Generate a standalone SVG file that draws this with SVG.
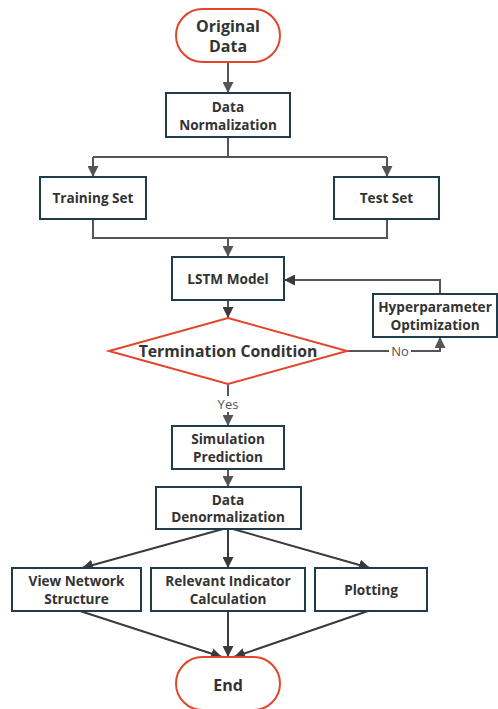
<svg xmlns="http://www.w3.org/2000/svg" width="498" height="709" viewBox="0 0 498 709">
<defs>
<style>
.box{fill:#fff;stroke:#1f3c4c;stroke-width:2}
.term{fill:#fff;stroke:#e2452b;stroke-width:2}
.t{font-family:"Open Sans","Noto Sans","Liberation Sans",sans-serif;font-weight:bold;font-size:13.6px;fill:#333;text-anchor:middle}
.big{font-size:16px}
.mid{font-size:15.8px}
.lbl{font-family:"Open Sans","Noto Sans","Liberation Sans",sans-serif;font-size:13px;fill:#555;text-anchor:middle}
.c{fill:none;stroke:#555;stroke-width:2}
.d{fill:none;stroke:#3a3a3a;stroke-width:2}
</style>
<marker id="ah" viewBox="0 0 10 10" refX="10" refY="5" markerWidth="5.5" markerHeight="5.5" orient="auto" markerUnits="strokeWidth">
<path d="M0,0 L10,5 L0,10 z" fill="#555"/>
</marker>
<marker id="ah2" viewBox="0 0 10 10" refX="10" refY="5" markerWidth="5.5" markerHeight="5.5" orient="auto" markerUnits="strokeWidth">
<path d="M0,0 L10,5 L0,10 z" fill="#3a3a3a"/>
</marker>
</defs>
<rect width="498" height="709" fill="#fff"/>
<g id="connectors">
<path class="c" d="M228,62 V93" marker-end="url(#ah)"/>
<path class="c" d="M228,137 V157 M93,157 H387"/>
<path class="c" d="M93,157 V177" marker-end="url(#ah)"/>
<path class="c" d="M387,157 V177" marker-end="url(#ah)"/>
<path class="c" d="M93,219 V238 H387 V219"/>
<path class="c" d="M228,238 V257" marker-end="url(#ah)"/>
<path class="c" d="M228,300 V318" marker-end="url(#ah2)"/>
<path class="c" d="M440,294 V280 H284" marker-end="url(#ah2)"/>
<path class="c" d="M347,351 H440 V337" marker-end="url(#ah)"/>
<rect x="389" y="343" width="22" height="16" fill="#fff"/>
<text class="lbl" x="400" y="356">No</text>
<path class="c" d="M228,384 V426" marker-end="url(#ah)"/>
<rect x="213" y="396" width="30" height="16" fill="#fff"/>
<text class="lbl" x="228" y="409">Yes</text>
<path class="c" d="M228,469 V487" marker-end="url(#ah)"/>
<path class="d" d="M223,529 L82,568" marker-end="url(#ah2)"/>
<path class="d" d="M228,529 V568" marker-end="url(#ah2)"/>
<path class="d" d="M233,529 L370,568" marker-end="url(#ah2)"/>
<path class="d" d="M80,611 L222,657" marker-end="url(#ah2)"/>
<path class="d" d="M228,611 V657" marker-end="url(#ah2)"/>
<path class="d" d="M368,611 L234,657" marker-end="url(#ah2)"/>
</g>
<g id="original-data">
<rect class="term" x="176" y="9" width="104" height="53" rx="26.5"/>
<text class="t big" x="228" y="32">Original</text>
<text class="t big" x="228" y="52">Data</text>
</g>
<g id="data-normalization">
<rect class="box" x="166" y="93" width="124" height="44"/>
<text class="t" x="228" y="112">Data</text>
<text class="t" x="228" y="129.5">Normalization</text>
</g>
<g id="training-set">
<rect class="box" x="40" y="177" width="106" height="42"/>
<text class="t" x="93" y="203">Training Set</text>
</g>
<g id="test-set">
<rect class="box" x="334" y="177" width="105" height="42"/>
<text class="t" x="386.5" y="203">Test Set</text>
</g>
<g id="lstm-model">
<rect class="box" x="172" y="257" width="112" height="43"/>
<text class="t" x="228" y="283.5">LSTM Model</text>
</g>
<g id="hyperparameter-optimization">
<rect class="box" x="373" y="294" width="124" height="43"/>
<text class="t" x="435" y="312">Hyperparameter</text>
<text class="t" x="435" y="329.5">Optimization</text>
</g>
<g id="termination-condition">
<polygon class="term" points="228,318 347,351 228,384 109,351"/>
<text class="t mid" x="228" y="357">Termination Condition</text>
</g>
<g id="simulation-prediction">
<rect class="box" x="172" y="426" width="112" height="43"/>
<text class="t" x="228" y="444">Simulation</text>
<text class="t" x="228" y="461.5">Prediction</text>
</g>
<g id="data-denormalization">
<rect class="box" x="156" y="487" width="145" height="42"/>
<text class="t" x="228" y="504.5">Data</text>
<text class="t" x="228" y="522">Denormalization</text>
</g>
<g id="view-network-structure">
<rect class="box" x="12" y="568" width="129" height="43"/>
<text class="t" x="76.5" y="586">View Network</text>
<text class="t" x="76.5" y="603.5">Structure</text>
</g>
<g id="relevant-indicator-calculation">
<rect class="box" x="151" y="568" width="154" height="43"/>
<text class="t" x="228" y="586">Relevant Indicator</text>
<text class="t" x="228" y="603.5">Calculation</text>
</g>
<g id="plotting">
<rect class="box" x="315" y="568" width="112" height="43"/>
<text class="t" x="371" y="595">Plotting</text>
</g>
<g id="end">
<rect class="term" x="176" y="657" width="104" height="53" rx="26.5"/>
<text class="t big" x="228" y="691">End</text>
</g>
</svg>
